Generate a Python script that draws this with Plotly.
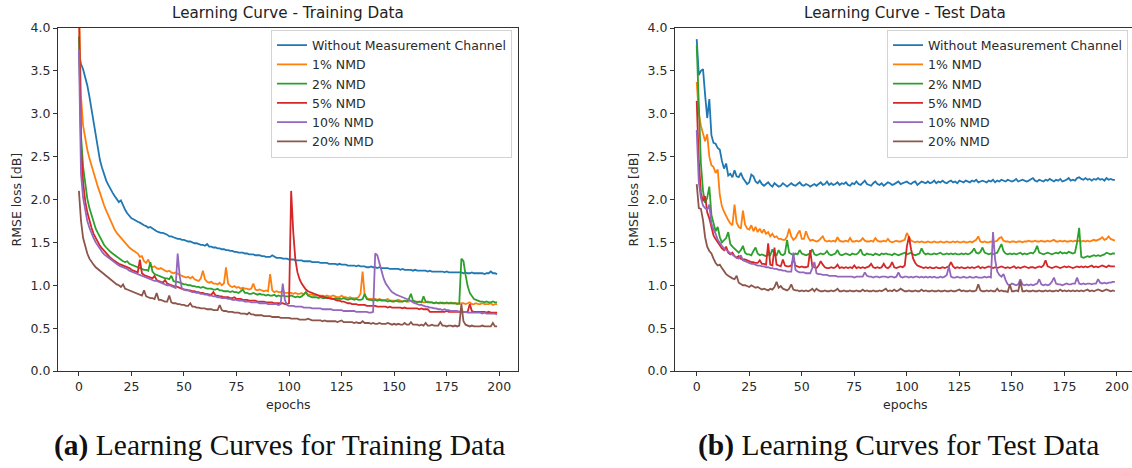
import plotly.graph_objects as go

W, H = 1132, 468

epochs = list(range(200))
series_names = ["Without Measurement Channel", "1% NMD", "2% NMD", "5% NMD", "10% NMD", "20% NMD"]
colors = ["#1f77b4", "#ff7f0e", "#2ca02c", "#d62728", "#9467bd", "#8c564b"]
x_ticks = [0, 25, 50, 75, 100, 125, 150, 175, 200]
y_ticks = [0.0, 0.5, 1.0, 1.5, 2.0, 2.5, 3.0, 3.5, 4.0]

# ---------------- Training data ----------------
train_wo = [
    3.70, 3.58, 3.52, 3.43, 3.33, 3.20, 3.05, 2.90, 2.74, 2.58,
    2.46, 2.37, 2.29, 2.22, 2.17, 2.12, 2.08, 2.04, 2.00, 1.97,
    1.99, 1.93, 1.88, 1.84, 1.81, 1.78, 1.77, 1.75, 1.74, 1.73,
    1.71, 1.70, 1.69, 1.67, 1.68, 1.66, 1.64, 1.63, 1.62, 1.61,
    1.61, 1.60, 1.59, 1.57, 1.57, 1.56, 1.55, 1.54, 1.54, 1.53,
    1.53, 1.52, 1.51, 1.51, 1.50, 1.49, 1.49, 1.48, 1.47, 1.47,
    1.46, 1.48, 1.45, 1.45, 1.44, 1.44, 1.43, 1.43, 1.42, 1.42,
    1.41, 1.41, 1.40, 1.40, 1.39, 1.39, 1.38, 1.38, 1.38, 1.37,
    1.37, 1.36, 1.36, 1.36, 1.35, 1.35, 1.35, 1.34, 1.34, 1.33,
    1.33, 1.33, 1.35, 1.33, 1.32, 1.32, 1.32, 1.31, 1.31, 1.31,
    1.30, 1.30, 1.30, 1.29, 1.29, 1.29, 1.29, 1.28, 1.28, 1.28,
    1.28, 1.27, 1.27, 1.27, 1.27, 1.26, 1.26, 1.26, 1.26, 1.25,
    1.25, 1.25, 1.25, 1.24, 1.25, 1.24, 1.24, 1.24, 1.23, 1.23,
    1.23, 1.23, 1.22, 1.23, 1.22, 1.22, 1.22, 1.21, 1.21, 1.22,
    1.21, 1.21, 1.20, 1.21, 1.20, 1.20, 1.20, 1.20, 1.19, 1.19,
    1.19, 1.19, 1.19, 1.18, 1.19, 1.18, 1.18, 1.18, 1.18, 1.17,
    1.18, 1.17, 1.17, 1.17, 1.17, 1.17, 1.16, 1.17, 1.16, 1.16,
    1.16, 1.16, 1.16, 1.16, 1.15, 1.16, 1.15, 1.15, 1.15, 1.15,
    1.15, 1.15, 1.15, 1.14, 1.15, 1.14, 1.14, 1.15, 1.14, 1.14,
    1.14, 1.14, 1.14, 1.13, 1.14, 1.14, 1.16, 1.14, 1.14, 1.13,
]
train_1 = [
    4.30, 3.20, 2.86, 2.70, 2.58, 2.48, 2.39, 2.30, 2.22, 2.15,
    2.08, 2.00, 1.93, 1.87, 1.81, 1.75, 1.70, 1.65, 1.61, 1.58,
    1.55, 1.52, 1.49, 1.46, 1.44, 1.42, 1.40, 1.38, 1.37, 1.33,
    1.34, 1.28, 1.26, 1.30, 1.24, 1.21, 1.22, 1.20, 1.19, 1.20,
    1.18, 1.17, 1.16, 1.17, 1.15, 1.14, 1.15, 1.13, 1.12, 1.11,
    1.10, 1.09, 1.10, 1.08, 1.10, 1.07, 1.06, 1.05, 1.08, 1.17,
    1.07, 1.04, 1.03, 1.04, 1.02, 1.02, 1.01, 1.03, 1.00, 1.02,
    1.21, 1.02, 0.99, 0.98, 0.99, 0.97, 0.98, 0.96, 0.97, 0.96,
    0.96, 0.95, 0.96, 1.02, 0.95, 0.94, 0.95, 0.94, 0.93, 0.94,
    0.93, 1.13, 0.94, 0.92, 0.93, 0.92, 0.92, 0.93, 0.91, 0.91,
    0.91, 0.91, 0.90, 0.91, 0.90, 0.90, 0.91, 0.89, 0.92, 0.89,
    0.89, 0.89, 0.88, 0.89, 0.88, 0.88, 0.88, 0.87, 0.88, 0.87,
    0.87, 0.88, 0.87, 0.86, 0.86, 0.88, 0.86, 0.86, 0.85, 0.86,
    0.85, 0.85, 0.85, 0.86, 0.90, 1.16, 0.88, 0.85, 0.84, 0.84,
    0.84, 0.84, 0.83, 0.84, 0.83, 0.83, 0.83, 0.84, 0.82, 0.82,
    0.82, 0.82, 0.83, 0.82, 0.81, 0.82, 0.81, 0.81, 0.82, 0.81,
    0.81, 0.81, 0.80, 0.81, 0.80, 0.80, 0.81, 0.80, 0.80, 0.79,
    0.80, 0.79, 0.79, 0.80, 0.79, 0.79, 0.79, 0.80, 0.79, 0.79,
    0.79, 0.78, 0.79, 0.79, 0.78, 0.79, 0.80, 0.78, 0.78, 0.79,
    0.78, 0.78, 0.79, 0.78, 0.78, 0.78, 0.79, 0.77, 0.78, 0.78,
]
train_2 = [
    3.90, 2.75, 2.38, 2.16, 2.01, 1.90, 1.81, 1.73, 1.66, 1.61,
    1.56, 1.51, 1.47, 1.44, 1.41, 1.39, 1.37, 1.35, 1.33, 1.31,
    1.30, 1.28, 1.27, 1.28, 1.25, 1.24, 1.23, 1.22, 1.21, 1.20,
    1.19, 1.18, 1.18, 1.17, 1.27, 1.16, 1.13, 1.12, 1.11, 1.10,
    1.09, 1.08, 1.08, 1.07, 1.11, 1.05, 1.04, 1.04, 1.03, 1.02,
    1.01, 1.01, 1.00, 1.00, 0.99, 0.99, 0.98, 0.98, 0.97, 0.98,
    0.97, 0.96, 0.96, 0.96, 0.95, 0.95, 0.96, 0.94, 0.94, 0.93,
    0.93, 0.93, 0.92, 0.93, 0.92, 0.92, 0.91, 0.93, 0.95, 0.91,
    0.91, 0.90, 0.90, 0.91, 0.90, 0.89, 0.90, 0.89, 0.89, 0.88,
    0.89, 0.88, 0.88, 0.89, 0.87, 0.88, 0.87, 0.88, 0.87, 0.87,
    0.87, 0.88, 0.87, 0.86, 0.87, 0.86, 0.87, 0.89, 0.92, 0.88,
    0.87, 0.86, 0.86, 0.86, 0.85, 0.86, 0.85, 0.85, 0.86, 0.85,
    0.85, 0.84, 0.85, 0.84, 0.84, 0.84, 0.85, 0.84, 0.83, 0.84,
    0.84, 0.83, 0.84, 0.83, 0.83, 0.84, 0.90, 0.84, 0.83, 0.83,
    0.82, 0.83, 0.82, 0.83, 0.82, 0.82, 0.82, 0.81, 0.82, 0.81,
    0.81, 0.82, 0.81, 0.81, 0.81, 0.82, 0.81, 0.84, 0.90, 0.82,
    0.81, 0.80, 0.81, 0.80, 0.87, 0.81, 0.80, 0.80, 0.80, 0.79,
    0.80, 0.79, 0.80, 0.79, 0.79, 0.80, 0.79, 0.79, 0.79, 0.79,
    0.78, 0.79, 1.31, 1.28, 1.12, 0.99, 0.91, 0.87, 0.84, 0.83,
    0.82, 0.81, 0.81, 0.80, 0.81, 0.80, 0.80, 0.81, 0.80, 0.80,
]
train_5 = [
    4.30, 2.60, 2.20, 1.98, 1.85, 1.75, 1.67, 1.60, 1.55, 1.50,
    1.46, 1.43, 1.40, 1.37, 1.35, 1.32, 1.30, 1.28, 1.27, 1.25,
    1.24, 1.23, 1.22, 1.21, 1.20, 1.18, 1.17, 1.16, 1.15, 1.30,
    1.14, 1.12, 1.11, 1.10, 1.09, 1.08, 1.11, 1.06, 1.05, 1.04,
    1.03, 1.06, 1.02, 1.01, 1.00, 0.99, 0.99, 0.98, 0.97, 0.96,
    0.95, 0.95, 0.94, 0.94, 0.93, 0.93, 0.92, 0.92, 0.91, 0.91,
    0.90, 0.90, 0.89, 0.89, 0.92, 0.88, 0.88, 0.87, 0.87, 0.86,
    0.86, 0.86, 0.85, 0.85, 0.86, 0.84, 0.84, 0.84, 0.83, 0.83,
    0.83, 0.82, 0.82, 0.82, 0.82, 0.81, 0.81, 0.81, 0.81, 0.80,
    0.80, 0.80, 0.80, 0.79, 0.79, 0.79, 0.79, 0.79, 0.78, 0.78,
    0.79, 2.10, 1.62, 1.30, 1.15, 1.07, 1.02, 0.98, 0.95, 0.93,
    0.92, 0.91, 0.90, 0.89, 0.88, 0.87, 0.87, 0.86, 0.85, 0.85,
    0.84, 0.84, 0.83, 0.82, 0.82, 0.81, 0.81, 0.80, 0.79, 0.79,
    0.78, 0.78, 0.78, 0.77, 0.77, 0.77, 0.77, 0.76, 0.76, 0.76,
    0.76, 0.76, 0.75, 0.75, 0.75, 0.75, 0.75, 0.74, 0.75, 0.74,
    0.74, 0.74, 0.74, 0.74, 0.73, 0.74, 0.73, 0.73, 0.73, 0.73,
    0.73, 0.73, 0.72, 0.73, 0.72, 0.72, 0.72, 0.69, 0.69, 0.69,
    0.69, 0.69, 0.69, 0.69, 0.69, 0.70, 0.69, 0.69, 0.69, 0.69,
    0.69, 0.69, 0.70, 0.69, 0.69, 0.69, 0.78, 0.70, 0.69, 0.69,
    0.69, 0.69, 0.69, 0.69, 0.68, 0.69, 0.68, 0.68, 0.68, 0.68,
]
train_10 = [
    3.75, 2.30, 2.02, 1.86, 1.75, 1.67, 1.60, 1.55, 1.50, 1.46,
    1.42, 1.39, 1.36, 1.34, 1.32, 1.30, 1.28, 1.26, 1.25, 1.23,
    1.22, 1.21, 1.20, 1.19, 1.17, 1.16, 1.15, 1.14, 1.13, 1.12,
    1.11, 1.10, 1.09, 1.08, 1.07, 1.06, 1.05, 1.05, 1.04, 1.03,
    1.02, 1.01, 1.00, 1.00, 0.99, 0.98, 0.97, 1.37, 1.10, 0.96,
    0.95, 0.94, 0.94, 0.93, 0.92, 0.92, 0.91, 0.91, 0.90, 0.90,
    0.89, 0.89, 0.88, 0.88, 0.87, 0.87, 0.86, 0.86, 0.85, 0.85,
    0.85, 0.84, 0.84, 0.83, 0.83, 0.83, 0.82, 0.82, 0.82, 0.81,
    0.81, 0.81, 0.80, 0.80, 0.80, 0.80, 0.79, 0.79, 0.79, 0.79,
    0.78, 0.78, 0.78, 0.78, 0.78, 0.77, 0.78, 1.02, 0.83, 0.77,
    0.76, 0.76, 0.76, 0.75, 0.75, 0.75, 0.75, 0.74, 0.74, 0.74,
    0.74, 0.73, 0.73, 0.73, 0.73, 0.73, 0.72, 0.72, 0.72, 0.72,
    0.72, 0.71, 0.71, 0.71, 0.71, 0.71, 0.70, 0.70, 0.70, 0.70,
    0.70, 0.70, 0.69, 0.69, 0.69, 0.69, 0.69, 0.69, 0.68, 0.68,
    0.69, 1.37, 1.35, 1.26, 1.16, 1.08, 1.02, 0.98, 0.95, 0.92,
    0.90, 0.89, 0.88, 0.87, 0.86, 0.85, 0.84, 0.83, 0.82, 0.80,
    0.79, 0.78, 0.77, 0.77, 0.76, 0.75, 0.75, 0.74, 0.74, 0.73,
    0.73, 0.72, 0.72, 0.71, 0.72, 0.71, 0.71, 0.70, 0.70, 0.70,
    0.70, 0.69, 0.69, 0.69, 0.69, 0.68, 0.68, 0.68, 0.68, 0.68,
    0.68, 0.68, 0.67, 0.68, 0.67, 0.67, 0.67, 0.67, 0.67, 0.66,
]
train_20 = [
    2.10, 1.75, 1.55, 1.45, 1.37, 1.31, 1.27, 1.24, 1.21, 1.19,
    1.16, 1.14, 1.12, 1.10, 1.08, 1.06, 1.04, 1.03, 1.01, 1.00,
    0.98, 1.01, 0.96, 0.95, 0.94, 0.93, 0.92, 0.91, 0.90, 0.89,
    0.88, 0.94, 0.87, 0.86, 0.85, 0.85, 0.84, 0.91, 0.83, 0.83,
    0.82, 0.81, 0.81, 0.88, 0.80, 0.79, 0.79, 0.78, 0.78, 0.77,
    0.77, 0.76, 0.76, 0.79, 0.75, 0.75, 0.74, 0.74, 0.73, 0.73,
    0.73, 0.72, 0.72, 0.72, 0.71, 0.71, 0.71, 0.77, 0.71, 0.70,
    0.70, 0.69, 0.69, 0.69, 0.68, 0.68, 0.68, 0.67, 0.67, 0.67,
    0.66, 0.68, 0.66, 0.66, 0.65, 0.65, 0.65, 0.65, 0.64, 0.64,
    0.64, 0.64, 0.63, 0.63, 0.63, 0.63, 0.62, 0.62, 0.62, 0.62,
    0.62, 0.61, 0.61, 0.61, 0.61, 0.60, 0.60, 0.60, 0.60, 0.61,
    0.60, 0.59, 0.59, 0.59, 0.59, 0.59, 0.58, 0.59, 0.58, 0.58,
    0.58, 0.58, 0.58, 0.57, 0.58, 0.59, 0.57, 0.57, 0.57, 0.57,
    0.57, 0.56, 0.57, 0.56, 0.56, 0.58, 0.56, 0.56, 0.56, 0.55,
    0.56, 0.55, 0.55, 0.56, 0.55, 0.55, 0.55, 0.56, 0.55, 0.54,
    0.55, 0.54, 0.55, 0.54, 0.54, 0.56, 0.54, 0.54, 0.57, 0.54,
    0.54, 0.54, 0.53, 0.54, 0.53, 0.56, 0.53, 0.53, 0.54, 0.53,
    0.53, 0.53, 0.57, 0.53, 0.53, 0.52, 0.53, 0.53, 0.52, 0.53,
    0.52, 0.53, 0.78, 0.58, 0.54, 0.53, 0.52, 0.53, 0.52, 0.52,
    0.52, 0.52, 0.53, 0.52, 0.52, 0.52, 0.52, 0.56, 0.52, 0.52,
]

# ---------------- Test data ----------------
test_wo = [
    3.87, 3.45, 3.50, 3.52, 3.22, 2.95, 3.17, 2.75, 2.66, 2.65,
    2.60, 2.58, 2.45, 2.36, 2.42, 2.28, 2.30, 2.26, 2.34, 2.27,
    2.26, 2.31, 2.25, 2.21, 2.18, 2.20, 2.29, 2.27, 2.21, 2.19,
    2.22, 2.18, 2.16, 2.18, 2.20, 2.17, 2.15, 2.19, 2.17, 2.15,
    2.16, 2.19, 2.17, 2.15, 2.17, 2.19, 2.17, 2.16, 2.18, 2.20,
    2.17, 2.16, 2.18, 2.17, 2.15, 2.17, 2.18, 2.16, 2.18, 2.20,
    2.17, 2.18, 2.21, 2.17, 2.19, 2.17, 2.18, 2.20, 2.17, 2.19,
    2.18, 2.20, 2.17, 2.16, 2.19, 2.18, 2.21, 2.18, 2.17, 2.19,
    2.22, 2.18, 2.17, 2.16, 2.19, 2.21, 2.18, 2.17, 2.19, 2.16,
    2.18, 2.20, 2.19, 2.17, 2.18, 2.20, 2.21, 2.18, 2.19, 2.20,
    2.21, 2.19, 2.18, 2.20, 2.21, 2.17, 2.19, 2.21, 2.20, 2.19,
    2.21, 2.19, 2.20, 2.22, 2.19, 2.21, 2.20, 2.22, 2.20, 2.19,
    2.21, 2.22, 2.20, 2.21, 2.19, 2.22, 2.21, 2.20, 2.22, 2.21,
    2.20, 2.22, 2.21, 2.23, 2.20, 2.21, 2.22, 2.21, 2.20, 2.22,
    2.21, 2.23, 2.20, 2.22, 2.21, 2.23, 2.22, 2.21, 2.23, 2.22,
    2.21, 2.22, 2.24, 2.21, 2.22, 2.23, 2.22, 2.21, 2.22, 2.24,
    2.25, 2.22, 2.21, 2.23, 2.22, 2.21, 2.23, 2.22, 2.24, 2.22,
    2.21, 2.23, 2.22, 2.24, 2.21, 2.22, 2.23, 2.25, 2.22, 2.23,
    2.22, 2.25, 2.26, 2.24, 2.23, 2.25, 2.23, 2.24, 2.22, 2.24,
    2.23, 2.25, 2.23, 2.24, 2.22, 2.25, 2.23, 2.24, 2.23, 2.23,
]
test_1 = [
    3.37, 3.00, 2.86, 2.78, 2.68, 2.76, 2.50, 2.40, 2.38, 2.31,
    2.35, 2.05, 1.92, 1.86, 1.80, 1.76, 1.72, 1.70, 1.94, 1.73,
    1.68, 1.66, 1.87, 1.71, 1.66, 1.65, 1.70, 1.63, 1.68, 1.62,
    1.66, 1.61, 1.65, 1.60, 1.62, 1.57, 1.60, 1.56, 1.57, 1.54,
    1.54, 1.53, 1.53, 1.57, 1.66, 1.57, 1.53, 1.55, 1.60, 1.64,
    1.54, 1.54, 1.63, 1.56, 1.52, 1.53, 1.52, 1.51, 1.52, 1.54,
    1.57, 1.52, 1.51, 1.52, 1.51, 1.52, 1.51, 1.56, 1.52, 1.51,
    1.51, 1.52, 1.51, 1.55, 1.51, 1.51, 1.52, 1.51, 1.52, 1.55,
    1.52, 1.51, 1.51, 1.52, 1.51, 1.55, 1.52, 1.51, 1.51, 1.52,
    1.51, 1.54, 1.51, 1.50, 1.51, 1.52, 1.51, 1.51, 1.52, 1.53,
    1.61, 1.56, 1.52, 1.51, 1.50, 1.51, 1.50, 1.51, 1.50, 1.50,
    1.51, 1.50, 1.50, 1.51, 1.50, 1.50, 1.51, 1.50, 1.50, 1.51,
    1.50, 1.50, 1.51, 1.50, 1.51, 1.50, 1.50, 1.51, 1.50, 1.50,
    1.51, 1.50, 1.52, 1.53, 1.57, 1.51, 1.50, 1.51, 1.50, 1.50,
    1.51, 1.50, 1.51, 1.52, 1.55, 1.56, 1.52, 1.51, 1.51, 1.50,
    1.51, 1.51, 1.50, 1.51, 1.51, 1.50, 1.51, 1.51, 1.52, 1.51,
    1.51, 1.52, 1.51, 1.51, 1.52, 1.51, 1.51, 1.52, 1.51, 1.52,
    1.53, 1.51, 1.51, 1.52, 1.51, 1.52, 1.51, 1.51, 1.52, 1.51,
    1.52, 1.51, 1.52, 1.51, 1.52, 1.51, 1.52, 1.51, 1.52, 1.53,
    1.52, 1.53, 1.54, 1.56, 1.53, 1.54, 1.57, 1.54, 1.53, 1.52,
]
test_2 = [
    3.80, 3.10, 2.42, 2.10, 1.96, 2.02, 2.15, 1.82, 1.72, 1.63,
    1.68, 1.56, 1.50, 1.52, 1.55, 1.62, 1.48, 1.45, 1.43, 1.40,
    1.38, 1.41, 1.46, 1.38, 1.36, 1.36, 1.35, 1.40, 1.44, 1.37,
    1.35, 1.36, 1.35, 1.34, 1.36, 1.35, 1.42, 1.36, 1.35, 1.41,
    1.36, 1.35, 1.37, 1.53, 1.38, 1.36, 1.35, 1.37, 1.36, 1.41,
    1.37, 1.36, 1.35, 1.36, 1.37, 1.42, 1.36, 1.35, 1.36, 1.37,
    1.36, 1.37, 1.40, 1.36, 1.35, 1.36, 1.37, 1.41, 1.36, 1.35,
    1.36, 1.37, 1.36, 1.35, 1.37, 1.36, 1.36, 1.38, 1.42, 1.36,
    1.35, 1.37, 1.36, 1.36, 1.35, 1.37, 1.36, 1.35, 1.37, 1.36,
    1.37, 1.36, 1.36, 1.35, 1.37, 1.36, 1.35, 1.36, 1.37, 1.38,
    1.36, 1.37, 1.38, 1.36, 1.35, 1.36, 1.37, 1.43, 1.38, 1.36,
    1.37, 1.36, 1.36, 1.37, 1.36, 1.37, 1.38, 1.36, 1.36, 1.37,
    1.36, 1.37, 1.36, 1.37, 1.36, 1.36, 1.37, 1.36, 1.37, 1.36,
    1.37, 1.39, 1.43, 1.38, 1.37, 1.39, 1.44, 1.38, 1.37, 1.36,
    1.37, 1.36, 1.37, 1.38, 1.43, 1.48, 1.40, 1.37, 1.36, 1.37,
    1.36, 1.37, 1.36, 1.37, 1.38, 1.36, 1.37, 1.36, 1.37, 1.38,
    1.37, 1.40, 1.46, 1.38, 1.37, 1.36, 1.37, 1.38, 1.37, 1.36,
    1.37, 1.38, 1.37, 1.39, 1.37, 1.38, 1.37, 1.39, 1.38, 1.37,
    1.38, 1.50, 1.67, 1.33, 1.32, 1.33, 1.34, 1.33, 1.34, 1.35,
    1.34, 1.35, 1.34, 1.35, 1.36, 1.38, 1.37, 1.36, 1.37, 1.37,
]
test_5 = [
    3.15, 2.45, 2.08, 1.98, 2.04, 1.85, 1.78, 1.66, 1.58, 1.54,
    1.50, 1.46, 1.43, 1.41, 1.45, 1.38, 1.36, 1.38, 1.34, 1.32,
    1.34, 1.31, 1.30, 1.30, 1.29, 1.28, 1.27, 1.27, 1.26, 1.26,
    1.29, 1.25, 1.25, 1.24, 1.49, 1.24, 1.23, 1.44, 1.24, 1.23,
    1.22, 1.30, 1.23, 1.22, 1.22, 1.23, 1.31, 1.23, 1.22, 1.21,
    1.22, 1.21, 1.21, 1.22, 1.41, 1.22, 1.21, 1.20, 1.23, 1.28,
    1.24, 1.21, 1.20, 1.20, 1.21, 1.20, 1.21, 1.24, 1.20, 1.21,
    1.20, 1.21, 1.20, 1.21, 1.20, 1.23, 1.20, 1.21, 1.20, 1.21,
    1.20, 1.21, 1.22, 1.25, 1.21, 1.20, 1.21, 1.20, 1.21, 1.25,
    1.21, 1.20, 1.22, 1.27, 1.21, 1.20, 1.21, 1.22, 1.21, 1.23,
    1.45, 1.57, 1.42, 1.31, 1.26, 1.23, 1.22, 1.21, 1.20, 1.21,
    1.20, 1.21, 1.20, 1.20, 1.21, 1.20, 1.20, 1.21, 1.20, 1.21,
    1.22, 1.27, 1.22, 1.20, 1.21, 1.20, 1.21, 1.20, 1.20, 1.21,
    1.20, 1.21, 1.20, 1.21, 1.22, 1.20, 1.21, 1.20, 1.21, 1.22,
    1.21, 1.20, 1.21, 1.20, 1.21, 1.22, 1.21, 1.20, 1.21, 1.20,
    1.21, 1.22, 1.20, 1.21, 1.20, 1.21, 1.22, 1.21, 1.20, 1.21,
    1.21, 1.20, 1.21, 1.22, 1.21, 1.23, 1.29, 1.22, 1.21, 1.20,
    1.21, 1.22, 1.21, 1.20, 1.21, 1.22, 1.21, 1.22, 1.21, 1.20,
    1.21, 1.22, 1.21, 1.22, 1.21, 1.22, 1.21, 1.22, 1.23, 1.21,
    1.22, 1.21, 1.22, 1.23, 1.22, 1.21, 1.23, 1.22, 1.22, 1.22,
]
test_10 = [
    2.81, 2.20, 2.02, 1.93, 1.90, 1.88, 1.94, 1.72, 1.65, 1.60,
    1.53, 1.49, 1.46, 1.43, 1.41, 1.39, 1.37, 1.35, 1.33, 1.32,
    1.31, 1.35, 1.29, 1.28, 1.27, 1.26, 1.25, 1.25, 1.24, 1.23,
    1.23, 1.22, 1.22, 1.21, 1.21, 1.20, 1.20, 1.19, 1.19, 1.18,
    1.18, 1.17, 1.17, 1.16, 1.16, 1.16, 1.38, 1.18, 1.16, 1.15,
    1.15, 1.15, 1.14, 1.14, 1.14, 1.20, 1.27, 1.14, 1.13, 1.13,
    1.12, 1.12, 1.12, 1.11, 1.11, 1.11, 1.11, 1.10, 1.10, 1.10,
    1.10, 1.10, 1.10, 1.10, 1.10, 1.09, 1.10, 1.10, 1.10, 1.10,
    1.15, 1.11, 1.10, 1.10, 1.09, 1.10, 1.10, 1.09, 1.10, 1.10,
    1.10, 1.09, 1.10, 1.10, 1.09, 1.10, 1.15, 1.10, 1.09, 1.10,
    1.10, 1.09, 1.10, 1.09, 1.10, 1.10, 1.09, 1.10, 1.09, 1.10,
    1.09, 1.10, 1.09, 1.10, 1.09, 1.09, 1.10, 1.09, 1.10, 1.12,
    1.22, 1.10, 1.09, 1.09, 1.10, 1.09, 1.09, 1.10, 1.09, 1.09,
    1.10, 1.09, 1.09, 1.10, 1.09, 1.09, 1.09, 1.10, 1.09, 1.10,
    1.09, 1.62, 1.30, 1.16, 1.12, 1.10, 1.13, 1.06, 1.01, 1.00,
    1.02, 1.01, 1.00, 1.01, 1.07, 1.01, 1.00, 1.01, 1.00, 1.01,
    1.00, 1.01, 1.02, 1.07, 1.01, 1.00, 1.01, 1.00, 1.01, 1.04,
    1.09, 1.02, 1.01, 1.01, 1.00, 1.01, 1.02, 1.01, 1.01, 1.02,
    1.02, 1.09, 1.02, 1.01, 1.02, 1.01, 1.02, 1.02, 1.01, 1.02,
    1.02, 1.07, 1.03, 1.02, 1.03, 1.02, 1.03, 1.03, 1.04, 1.04,
]
test_20 = [
    2.18, 1.90, 1.89, 1.76, 1.56, 1.45, 1.40, 1.37, 1.31, 1.26,
    1.23, 1.24, 1.20, 1.16, 1.13, 1.11, 1.09, 1.08, 1.07, 1.11,
    1.03, 1.01, 1.00, 1.00, 0.99, 0.98, 1.00, 0.98, 0.97, 0.98,
    0.96, 0.95, 0.96, 0.95, 0.94, 0.96, 0.95, 0.98, 1.04, 0.97,
    0.99, 0.96, 0.95, 0.94, 0.96, 1.01, 0.95, 0.94, 0.94, 0.93,
    0.94, 0.93, 0.94, 0.93, 0.94, 0.96, 0.93, 0.96, 0.94, 0.93,
    0.93, 0.94, 0.93, 0.93, 0.94, 0.93, 0.94, 0.96, 0.93, 0.93,
    0.94, 0.93, 0.93, 0.94, 0.93, 0.93, 0.94, 0.93, 0.93, 0.95,
    0.93, 0.94, 0.93, 0.93, 0.94, 0.93, 0.93, 0.94, 0.93, 0.95,
    0.96, 0.93, 0.94, 0.93, 0.95, 0.93, 0.94, 0.96, 0.94, 0.93,
    0.93, 0.94, 0.93, 0.93, 0.94, 0.93, 0.93, 0.95, 0.93, 0.94,
    0.93, 0.93, 0.94, 0.93, 0.93, 0.94, 0.93, 0.93, 0.94, 0.93,
    0.93, 0.94, 0.93, 0.93, 0.94, 0.95, 0.93, 0.94, 0.93, 0.93,
    0.94, 0.93, 0.93, 0.94, 1.01, 0.94, 0.93, 0.93, 0.94, 0.93,
    0.94, 0.93, 0.93, 0.96, 0.93, 0.94, 0.93, 0.93, 0.92, 1.01,
    0.93, 0.93, 0.94, 0.93, 1.05, 0.93, 0.93, 0.94, 0.93, 0.93,
    0.94, 0.93, 0.93, 0.94, 0.93, 0.93, 0.94, 0.93, 0.94, 0.93,
    0.93, 0.94, 0.93, 0.95, 0.93, 0.94, 0.93, 0.94, 0.93, 0.94,
    0.93, 0.94, 0.93, 0.94, 0.93, 0.94, 0.95, 0.93, 0.94, 0.93,
    0.94, 0.95, 0.94, 0.93, 0.94, 0.95, 0.94, 0.93, 0.94, 0.93,
]

train_series = [train_wo, train_1, train_2, train_5, train_10, train_20]
test_series = [test_wo, test_1, test_2, test_5, test_10, test_20]

# ---------------- Figure ----------------
def fx(px):
    return px / W

def fy(py):
    return 1 - py / H

TOP, BOT = 28, 371
L1, R1 = 58, 518
L2, R2 = 675, W

fig = go.Figure()
for i, name in enumerate(series_names):
    fig.add_trace(go.Scatter(
        x=epochs, y=train_series[i], mode="lines", name=name,
        line=dict(color=colors[i], width=1.8),
        xaxis="x", yaxis="y", legend="legend",
    ))
for i, name in enumerate(series_names):
    fig.add_trace(go.Scatter(
        x=epochs, y=test_series[i], mode="lines", name=name,
        line=dict(color=colors[i], width=1.8),
        xaxis="x2", yaxis="y2", legend="legend2",
    ))

font_sans = "DejaVu Sans, Verdana, sans-serif"
FS = 12.5
tickfont = dict(family=font_sans, size=FS, color="#2a2a2a")
axis_common = dict(
    showline=True, linecolor="#333333", linewidth=1,
    ticks="outside", ticklen=4, tickwidth=1, tickcolor="#333333",
    showgrid=False, zeroline=False, tickfont=tickfont, automargin=False,
)

px_per_epoch = (R1 - L1) / 218.9
x2_left = -10.33
x2_right = x2_left + (R2 - L2) / px_per_epoch

legend_common = dict(
    yanchor="top", xanchor="right",
    bgcolor="rgba(255,255,255,0.85)", bordercolor="#d3d3d3", borderwidth=1,
    font=dict(family=font_sans, size=FS, color="#2a2a2a"), tracegroupgap=0,
)

fig.update_layout(
    width=W, height=H, autosize=False,
    margin=dict(l=0, r=0, t=0, b=0, pad=0, autoexpand=False),
    paper_bgcolor="white", plot_bgcolor="white",
    xaxis=dict(domain=[fx(L1), fx(R1)], range=[-9.95, 208.95], anchor="y",
               tickvals=x_ticks, mirror=True, **axis_common),
    yaxis=dict(domain=[fy(BOT), fy(TOP)], range=[0, 4], anchor="x",
               tickvals=y_ticks, tickformat=".1f", mirror=True, **axis_common),
    xaxis2=dict(domain=[fx(L2), 1.0], range=[x2_left, x2_right], anchor="y2",
                tickvals=x_ticks, mirror=True, **axis_common),
    yaxis2=dict(domain=[fy(BOT), fy(TOP)], range=[0, 4], anchor="x2",
                tickvals=y_ticks, tickformat=".1f", mirror=False, **axis_common),
    legend=dict(x=fx(512), y=fy(29.5), **legend_common),
    legend2=dict(x=fx(1128), y=fy(29.5), **legend_common),
    showlegend=True,
)

ann_font = dict(family=font_sans, size=15.2, color="#222222")
lab_font = dict(family=font_sans, size=FS, color="#2a2a2a")
serif = dict(family="Liberation Serif, Times New Roman, serif", size=29.5, color="#111111")
annotations = [
    dict(text="Learning Curve - Training Data", x=fx((L1 + R1) / 2), y=fy(13),
         font=ann_font),
    dict(text="Learning Curve - Test Data", x=fx((L2 + 1135.6) / 2), y=fy(13),
         font=ann_font),
    dict(text="RMSE loss [dB]", x=fx(16), y=fy((TOP + BOT) / 2), textangle=-90,
         font=lab_font),
    dict(text="RMSE loss [dB]", x=fx(633), y=fy((TOP + BOT) / 2), textangle=-90,
         font=lab_font),
    dict(text="epochs", x=fx((L1 + R1) / 2), y=fy(404), font=lab_font),
    dict(text="epochs", x=fx((L2 + 1135.6) / 2), y=fy(404), font=lab_font),
    dict(text="<b>(a)</b> Learning Curves for Training Data", x=fx(279), y=fy(445),
         font=serif),
    dict(text="<b>(b)</b> Learning Curves for Test Data", x=fx(898), y=fy(445),
         font=serif),
]
for a in annotations:
    a.update(xref="paper", yref="paper", showarrow=False,
             xanchor="center", yanchor="middle")
fig.update_layout(annotations=annotations)

fig.write_html("out.html")
